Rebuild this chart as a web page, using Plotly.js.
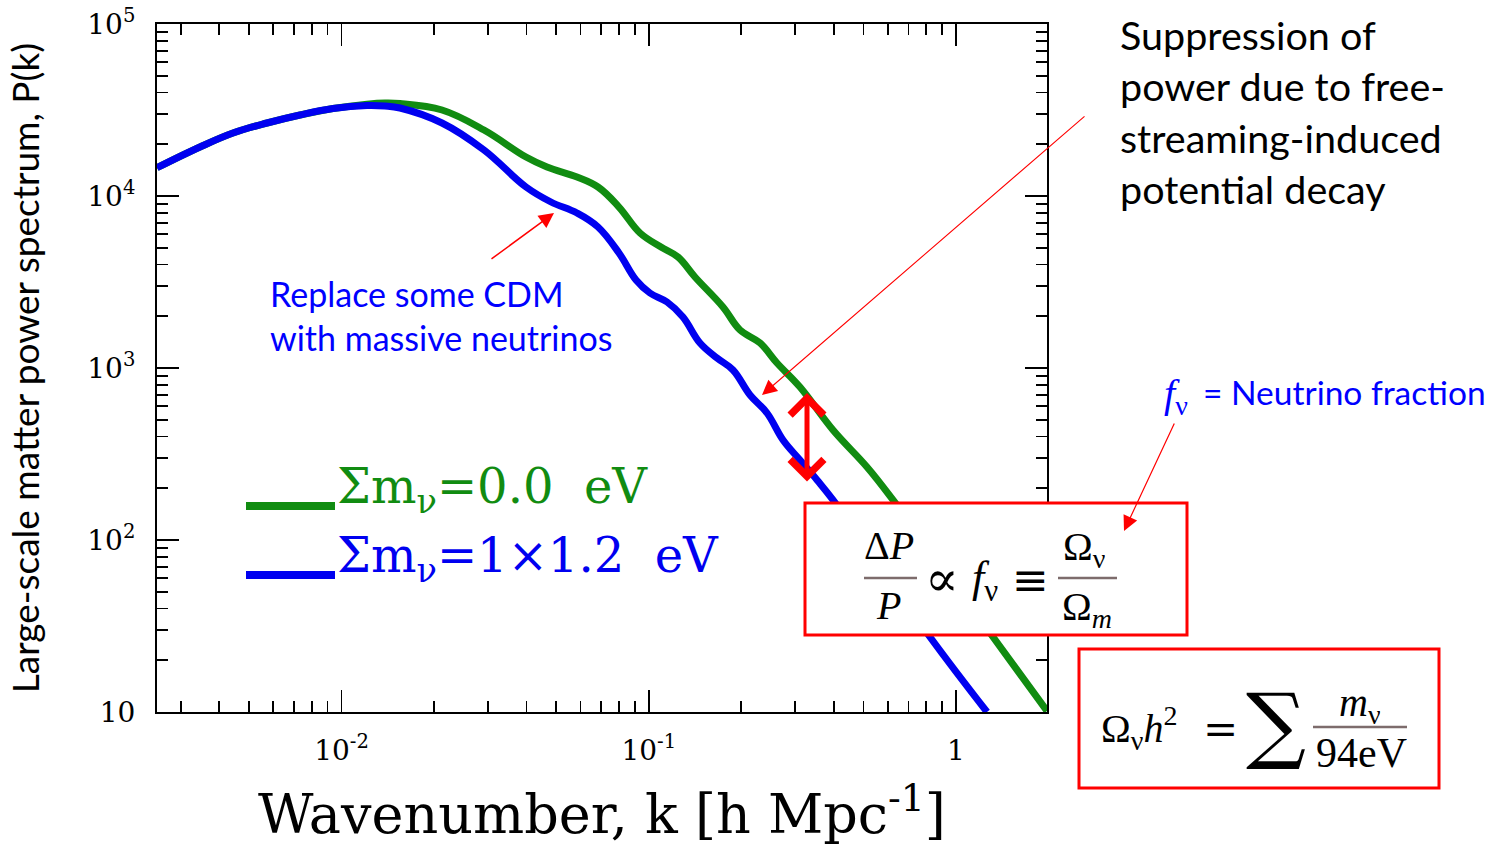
<!DOCTYPE html>
<html><head><meta charset="utf-8">
<script src="https://cdn.plot.ly/plotly-3.0.1.min.js"></script>
<style>html,body{margin:0;padding:0;background:#fff;} #chart{width:1495px;height:848px;}</style>
</head><body><div id="chart"></div>
<script>
// ---- data ----
const kGreen = [0.002509, 0.003462, 0.004434, 0.005721, 0.007327, 0.009382, 0.01211, 0.01385, 0.01550, 0.02124,
                0.02909, 0.03986, 0.04665, 0.05841, 0.06837, 0.08000, 0.09366, 0.1096, 0.1245, 0.1414,
                0.1744, 0.1982, 0.2302, 0.2615, 0.3106, 0.3978, 0.5132, 0.6237, 1.320, 1.978];
const pGreen = [14600, 19270, 23240, 26570, 29580, 32260, 34200, 34720, 34500, 31620,
                24190, 16850, 14740, 12890, 11280, 8630, 6094, 5052, 4418, 3381,
                2263, 1663, 1398, 1069, 775, 436, 265.7, 170.9, 27.29, 10.13];
const kBlue = [0.002509, 0.003462, 0.004434, 0.005721, 0.007327, 0.009382, 0.01211, 0.01385, 0.01550, 0.02124,
               0.02909, 0.03986, 0.04806, 0.05841, 0.06837, 0.08000, 0.09090, 0.1009, 0.1147, 0.1292,
               0.1468, 0.1668, 0.1880, 0.2136, 0.2426, 0.2735, 0.3106, 0.3529, 0.3978, 0.8229, 1.262];
const pBlue = [14600, 19270, 23240, 26570, 29580, 32260, 33600, 33370, 32480, 26570,
               18510, 11280, 9228, 7964, 6603, 4663, 3248, 2729, 2419, 1979,
               1398, 1143, 973.6, 696.6, 547.4, 381.4, 291.8, 223.3, 170.9, 27.29, 10.0];
const seriesNames = ['Σm<sub>ν</sub>=0.0\u00a0\u00a0eV', 'Σm<sub>ν</sub>=1×1.2\u00a0\u00a0eV'];
const xTickVals = [0.01, 0.1, 1];
const xTickText = ['10<sup>-2</sup>', '10<sup>-1</sup>', '1'];
const yTickVals = [10, 100, 1000, 10000, 100000];
const yTickText = ['10', '10<sup>2</sup>', '10<sup>3</sup>', '10<sup>4</sup>', '10<sup>5</sup>'];
const xTitle = 'Wavenumber, k [h Mpc<sup>-1</sup>]';
const yTitle = 'Large-scale matter power spectrum, P(k)';

// minor tick positions 2..9 per decade
function minors(d0, d1){ const v=[]; for(let d=d0; d<=d1; d++){ for(let m=2;m<=9;m++) v.push(m*Math.pow(10,d)); } return v; }

const GREEN = '#118c11', BLUE = '#0000f0', RED = '#ff0000';

// plot area in pixels -> paper coords
const L=157, R=1047, T=24, B=712;
const X = px => (px-L)/(R-L);
const Y = py => (B-py)/(B-T);

const traces = [
  {x:kGreen, y:pGreen, name:seriesNames[0], type:'scatter', mode:'lines',
   line:{color:GREEN, width:7, shape:'spline', smoothing:1.1}, hoverinfo:'skip'},
  {x:kBlue, y:pBlue, name:seriesNames[1], type:'scatter', mode:'lines',
   line:{color:BLUE, width:7, shape:'spline', smoothing:1.1}, hoverinfo:'skip'}
];

const axisCommon = {
  type:'log', showgrid:false, zeroline:false, showline:true, linecolor:'#000', linewidth:2,
  mirror:'ticks', ticks:'inside', ticklen:22, tickwidth:1.8, tickcolor:'#000',
  tickmode:'array', tickfont:{family:'DejaVu Serif', size:28, color:'#000'}, automargin:false
};

const lat = (size,color) => ({family:'Lato', size:size, color:color||'#000'});
const ser = (size,color) => ({family:'Liberation Serif', size:size, color:color||'#000'});
const dvs = (size,color) => ({family:'DejaVu Serif', size:size, color:color||'#000'});

function txt(text, px, py, font, opts){
  return Object.assign({xref:'paper', yref:'paper', x:X(px), y:Y(py), text:text, showarrow:false,
    xanchor:'center', yanchor:'middle', font:font}, opts||{});
}
function arrow(tipx, tipy, tailx, taily, opts){
  return Object.assign({xref:'paper', yref:'paper', x:X(tipx), y:Y(tipy), ax:tailx-tipx, ay:taily-tipy,
    text:'', showarrow:true, arrowcolor:RED, arrowhead:2, arrowsize:2, arrowwidth:1.5, standoff:0}, opts||{});
}
function hline(x0, x1, py, color, width){
  return {type:'line', xref:'paper', yref:'paper', x0:X(x0), x1:X(x1), y0:Y(py), y1:Y(py),
    line:{color:color, width:width}, layer:'above'};
}
function box(x0, y0, x1, y1){
  return {type:'rect', xref:'paper', yref:'paper', x0:X(x0), x1:X(x1), y0:Y(y0), y1:Y(y1),
    line:{color:RED, width:3}, fillcolor:'#ffffff', layer:'above'};
}

const layout = {
  width:1495, height:848,
  margin:{l:L, r:1495-R, t:T, b:848-B, pad:0},
  paper_bgcolor:'#ffffff', plot_bgcolor:'#ffffff',
  showlegend:false,
  xaxis:Object.assign({}, axisCommon, {
    range:[-2.6005, 0.2962], tickvals:xTickVals, ticktext:xTickText, ticklabelstandoff:12,
    minor:{tickmode:'array', tickvals:minors(-3,0), ticks:'inside', ticklen:11, tickwidth:1.8, tickcolor:'#000', showgrid:false},
    title:{text:xTitle, font:dvs(54), standoff:30}
  }),
  yaxis:Object.assign({}, axisCommon, {
    range:[1, 5], tickvals:yTickVals, ticktext:yTickText, ticklabelstandoff:14,
    minor:{tickmode:'array', tickvals:minors(1,4), ticks:'inside', ticklen:11, tickwidth:1.8, tickcolor:'#000', showgrid:false},
    title:{text:yTitle, font:lat(37), standoff:36}
  }),
  shapes:[
    hline(246, 335, 506, GREEN, 8),
    hline(246, 335, 575, BLUE, 8),
    box(805, 503, 1187, 635),
    hline(864, 917, 578, '#7d6c6c', 2.5),
    hline(1058, 1117, 578, '#7d6c6c', 2.5),
    box(1079, 649, 1439, 788),
    hline(1313, 1407, 727, '#7d6c6c', 2.5)
  ],
  annotations:[
    // legend labels
    txt(seriesNames[0], 335, 489, dvs(48, GREEN), {xanchor:'left'}),
    txt(seriesNames[1], 335, 558, dvs(48, BLUE), {xanchor:'left'}),
    // notes
    txt('Replace some CDM<br>with massive neutrinos', 268, 315, lat(34, '#0000ff'), {xanchor:'left', align:'left'}),
    txt('Suppression of<br>power due to free-<br>streaming-induced<br>potential decay', 1118, 111, lat(39.5), {xanchor:'left', align:'left'}),
    txt('<i>f</i><sub>ν</sub>', 1162, 396, ser(40, '#0000ff'), {xanchor:'left'}),
    txt('= Neutrino fraction', 1201, 392, lat(33.5, '#0000ff'), {xanchor:'left'}),
    // formula 1
    txt('Δ<i>P</i>', 889, 545, ser(40), {height:40}),
    txt('<i>P</i>', 888, 605, ser(40), {height:40}),
    txt('∝', 942, 579, dvs(50)),
    txt('<i>f</i><sub>ν</sub>', 985, 580, ser(44)),
    txt('≡', 1030, 579, dvs(44)),
    txt('Ω<sub>ν</sub>', 1084, 549, ser(40), {height:40}),
    txt('Ω<sub><i>m</i></sub>', 1087, 609, ser(40), {height:40}),
    // formula 2
    txt('Ω<sub>ν</sub><i>h</i><sup>2</sup>', 1139, 728, ser(40)),
    txt('=', 1220, 729, dvs(42)),
    txt('∑', 1276, 724, dvs(84)),
    txt('<i>m</i><sub>ν</sub>', 1360, 705, ser(40), {height:40}),
    txt('94eV', 1361, 753, ser(42), {height:40}),
    // arrows
    arrow(554, 213, 490, 260),
    arrow(762, 395, 1086, 115, {arrowwidth:1.1, arrowsize:2.7}),
    arrow(1124, 531, 1175, 422, {arrowwidth:1.2, arrowsize:2.5}),
    arrow(807, 393, 807, 483, {arrowside:'end+start', arrowhead:4, startarrowhead:4, arrowwidth:5, arrowsize:1.3, startarrowsize:1.3})
  ]
};

Plotly.newPlot('chart', traces, layout, {staticPlot:true, displayModeBar:false});
</script>
</body></html>
